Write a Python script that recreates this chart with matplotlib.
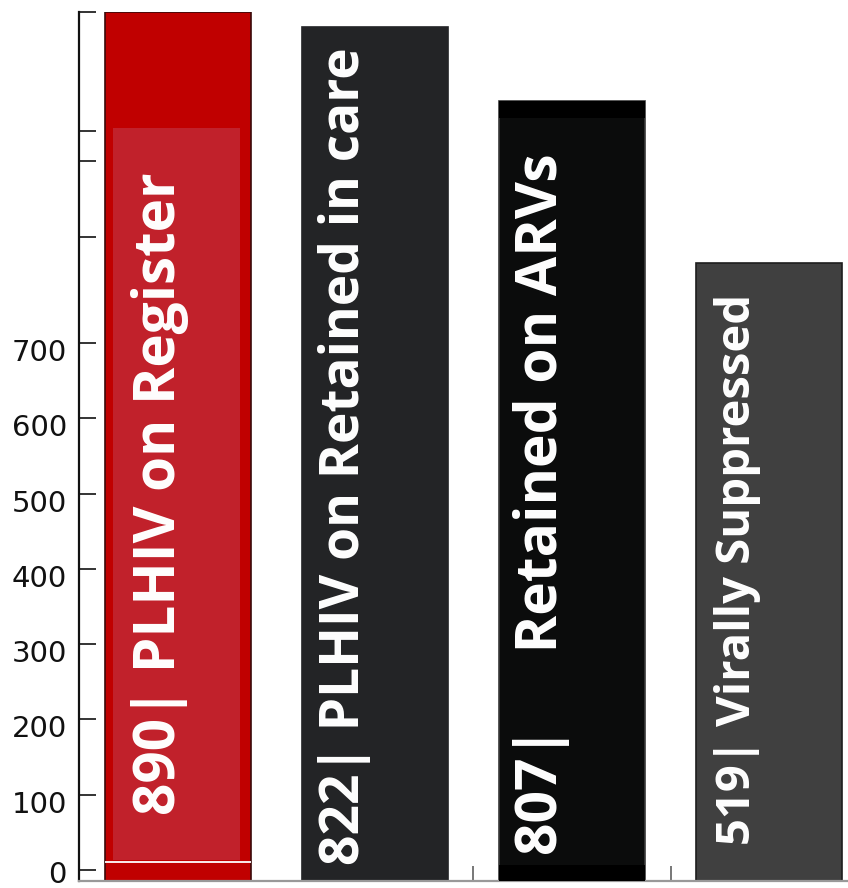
import matplotlib
matplotlib.use("Agg")
import matplotlib.pyplot as plt
from matplotlib.transforms import offset_copy

# values (bar heights in axis units, counts from the labels)
categories = ["PLHIV on Register", "PLHIV on Retained in care", "Retained on ARVs", "Virally Suppressed"]
counts = [890, 822, 807, 519]
bar_tops = [1140, 1120, 1022, 807]
labels = ["890| PLHIV on Register",
          "822| PLHIV on Retained in care",
          "807|     Retained on ARVs",
          "519| Virally Suppressed"]
labeled_ticks = [0, 100, 200, 300, 400, 500, 600, 700]
extra_ticks = [841, 942, 982, 1140]

# styling
bar_colors = ["#c00000", "#232426", "#0b0c0c", "#404040"]
edge_colors = ["#3a0a0a", "#232426", "#3a3a3a", "#1e1e1e"]
label_dx = [-0.09, -0.15, -0.15, -0.16]
label_y = [73, 7, 20, 33]
label_size = [40.8, 38.3, 41, 34]
floor = -14.6

fig = plt.figure(figsize=(8.48, 8.88), dpi=100)
ax = fig.add_axes([79 / 848, 7 / 888, 769 / 848, 869 / 888])

x = list(range(len(categories)))
width = 0.74
ax.bar(x, [t - floor for t in bar_tops], bottom=floor, width=width,
       color=bar_colors, edgecolor=edge_colors, linewidth=1.2, zorder=2)

# lighter inner panel of the first bar and its thin white base line
ax.bar(x[0] - 0.006, 986 - 13, bottom=13, width=0.645, color="#c1212b",
       linewidth=0, zorder=3)
ax.hlines(10, x[0] - width / 2, x[0] + width / 2, color="white", lw=1.3, zorder=3)
# darker bands on the third bar
ax.bar(x[2], bar_tops[2] - 999, bottom=999, width=width, color="black", linewidth=0, zorder=3)
ax.bar(x[2], 7 - floor, bottom=floor, width=width, color="black", linewidth=0, zorder=3)

for i, lab in enumerate(labels):
    ax.text(x[i] + label_dx[i], label_y[i], lab, rotation=90, ha="center", va="bottom",
            color="white", fontsize=label_size[i], fontweight="bold",
            family="Open Sans", zorder=4)

ax.set_xlim(-0.5, 3.4)
ax.set_ylim(floor, 1140)

ax.set_yticks(labeled_ticks + extra_ticks)
ax.set_yticklabels([])
ax.tick_params(axis="y", direction="in", length=12.5, width=1.4, color="#333333")
for v in labeled_ticks:
    dy = -5 if v == 0 else -10
    trans = offset_copy(ax.get_yaxis_transform(), fig=fig, x=-12, y=dy, units="dots")
    ax.text(0, v, str(v), transform=trans, ha="right", va="center",
            fontsize=21, color="#111111", family="DejaVu Sans")

ax.set_xticks([1.5, 2.5])
ax.set_xticklabels([])
ax.tick_params(axis="x", direction="in", length=11, width=1.4, color="#777777")

ax.spines["top"].set_visible(False)
ax.spines["right"].set_visible(False)
ax.spines["left"].set_linewidth(1.6)
ax.spines["left"].set_color("#111111")
ax.spines["bottom"].set_linewidth(1.6)
ax.spines["bottom"].set_color("#999999")

fig.savefig("out.png", dpi=100)
